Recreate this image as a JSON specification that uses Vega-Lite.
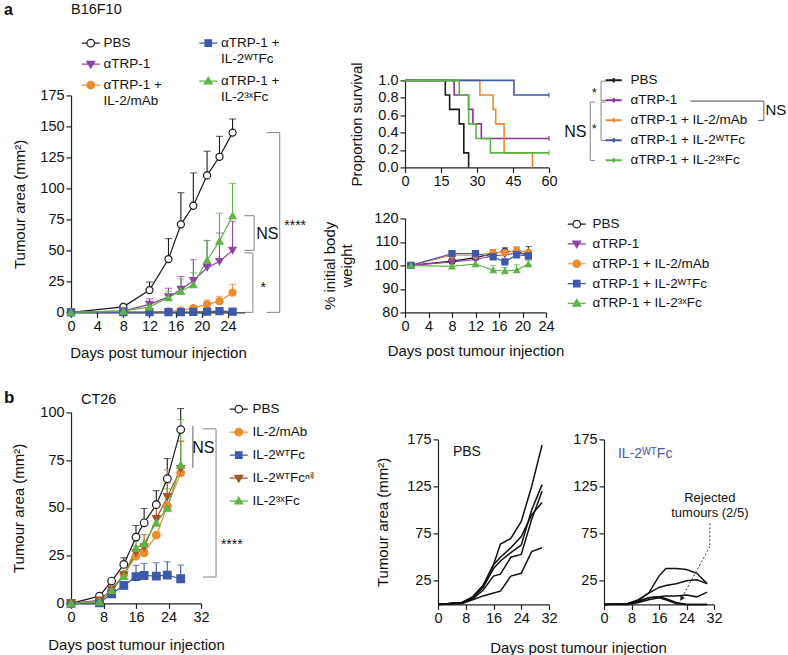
{
"$schema": "https://vega.github.io/schema/vega-lite/v6.json",
"padding": {"left": 3, "top": 1.4, "right": 0, "bottom": 0},
"background": "#ffffff",
"config": {
 "font": "Liberation Sans",
 "view": {"stroke": null},
 "axis": {"grid": false, "domainColor": "#222222", "tickColor": "#222222", "labelColor": "#111111", "titleColor": "#111111", "labelFontSize": 14.5, "titleFontSize": 15, "titleFontWeight": "normal", "tickSize": 5, "labelPadding": 2, "labelFlush": false, "labelOverlap": false, "domainWidth": 1.2, "tickWidth": 1.2, "labelFont": "Liberation Sans", "titleFont": "Liberation Sans"},
 "legend": {"labelFont": "Liberation Sans", "labelColor": "#111111", "symbolOpacity": 1},
 "text": {"font": "Liberation Sans", "color": "#111111"}
},
"datasets": {
 "aT": [
  {"g": "PBS", "day": 0, "m": 0, "hi": null},
  {"g": "PBS", "day": 8, "m": 4.5, "hi": 6.5},
  {"g": "PBS", "day": 12, "m": 18, "hi": 24.5},
  {"g": "PBS", "day": 14.9, "m": 43, "hi": 59.5},
  {"g": "PBS", "day": 16.8, "m": 71, "hi": 96.5},
  {"g": "PBS", "day": 18.7, "m": 86, "hi": 112.5},
  {"g": "PBS", "day": 20.8, "m": 110.5, "hi": 130},
  {"g": "PBS", "day": 22.7, "m": 125.5, "hi": 142},
  {"g": "PBS", "day": 24.7, "m": 145, "hi": 156},
  {"g": "αTRP-1", "day": 0, "m": 0, "hi": null},
  {"g": "αTRP-1", "day": 8, "m": 1.2, "hi": null},
  {"g": "αTRP-1", "day": 12, "m": 6.5, "hi": 11},
  {"g": "αTRP-1", "day": 14.9, "m": 12.5, "hi": 19.5},
  {"g": "αTRP-1", "day": 16.8, "m": 18.5, "hi": 29},
  {"g": "αTRP-1", "day": 18.7, "m": 25.5, "hi": 42.5},
  {"g": "αTRP-1", "day": 20.8, "m": 36, "hi": 58},
  {"g": "αTRP-1", "day": 22.7, "m": 41, "hi": 64},
  {"g": "αTRP-1", "day": 24.7, "m": 50, "hi": 73.5},
  {"g": "αTRP-1 + IL-2/mAb", "day": 0, "m": 0, "hi": null},
  {"g": "αTRP-1 + IL-2/mAb", "day": 8, "m": 0.3, "hi": null},
  {"g": "αTRP-1 + IL-2/mAb", "day": 12, "m": 0.3, "hi": null},
  {"g": "αTRP-1 + IL-2/mAb", "day": 14.9, "m": 0.8, "hi": null},
  {"g": "αTRP-1 + IL-2/mAb", "day": 16.8, "m": 1.5, "hi": 2.5},
  {"g": "αTRP-1 + IL-2/mAb", "day": 18.7, "m": 3.5, "hi": 5.5},
  {"g": "αTRP-1 + IL-2/mAb", "day": 20.8, "m": 6.5, "hi": 10},
  {"g": "αTRP-1 + IL-2/mAb", "day": 22.7, "m": 9, "hi": 13},
  {"g": "αTRP-1 + IL-2/mAb", "day": 24.7, "m": 16, "hi": 22.5},
  {"g": "αTRP-1 + IL-2ᵂᵀFc", "day": 0, "m": 0, "hi": null},
  {"g": "αTRP-1 + IL-2ᵂᵀFc", "day": 8, "m": 0.2, "hi": null},
  {"g": "αTRP-1 + IL-2ᵂᵀFc", "day": 12, "m": 0.2, "hi": null},
  {"g": "αTRP-1 + IL-2ᵂᵀFc", "day": 14.9, "m": 0.3, "hi": null},
  {"g": "αTRP-1 + IL-2ᵂᵀFc", "day": 16.8, "m": 0.3, "hi": null},
  {"g": "αTRP-1 + IL-2ᵂᵀFc", "day": 18.7, "m": 0.4, "hi": null},
  {"g": "αTRP-1 + IL-2ᵂᵀFc", "day": 20.8, "m": 0.6, "hi": null},
  {"g": "αTRP-1 + IL-2ᵂᵀFc", "day": 22.7, "m": 1, "hi": null},
  {"g": "αTRP-1 + IL-2ᵂᵀFc", "day": 24.7, "m": 0.6, "hi": null},
  {"g": "αTRP-1 + IL-2³ˣFc", "day": 0, "m": 0, "hi": null},
  {"g": "αTRP-1 + IL-2³ˣFc", "day": 8, "m": 1, "hi": null},
  {"g": "αTRP-1 + IL-2³ˣFc", "day": 12, "m": 4.5, "hi": 8},
  {"g": "αTRP-1 + IL-2³ˣFc", "day": 14.9, "m": 12, "hi": 17},
  {"g": "αTRP-1 + IL-2³ˣFc", "day": 16.8, "m": 17, "hi": 27},
  {"g": "αTRP-1 + IL-2³ˣFc", "day": 18.7, "m": 22.5, "hi": 32},
  {"g": "αTRP-1 + IL-2³ˣFc", "day": 20.8, "m": 42, "hi": 58},
  {"g": "αTRP-1 + IL-2³ˣFc", "day": 22.7, "m": 57.5, "hi": 80},
  {"g": "αTRP-1 + IL-2³ˣFc", "day": 24.7, "m": 78, "hi": 104}
 ],
 "surv": [
  {"g": "PBS", "day": 0, "p": 1}, {"g": "PBS", "day": 16.8, "p": 0.833}, {"g": "PBS", "day": 18.6, "p": 0.667}, {"g": "PBS", "day": 22.6, "p": 0.5}, {"g": "PBS", "day": 24.5, "p": 0.167}, {"g": "PBS", "day": 26.5, "p": 0},
  {"g": "αTRP-1", "day": 0, "p": 1}, {"g": "αTRP-1", "day": 20.5, "p": 0.833}, {"g": "αTRP-1", "day": 26.5, "p": 0.667}, {"g": "αTRP-1", "day": 28.3, "p": 0.5}, {"g": "αTRP-1", "day": 31.8, "p": 0.333}, {"g": "αTRP-1", "day": 60, "p": 0.333},
  {"g": "αTRP-1 + IL-2/mAb", "day": 0, "p": 1}, {"g": "αTRP-1 + IL-2/mAb", "day": 31.2, "p": 0.833}, {"g": "αTRP-1 + IL-2/mAb", "day": 36.7, "p": 0.667}, {"g": "αTRP-1 + IL-2/mAb", "day": 37.8, "p": 0.5}, {"g": "αTRP-1 + IL-2/mAb", "day": 41.3, "p": 0.167}, {"g": "αTRP-1 + IL-2/mAb", "day": 53.1, "p": 0},
  {"g": "αTRP-1 + IL-2ᵂᵀFc", "day": 0, "p": 1}, {"g": "αTRP-1 + IL-2ᵂᵀFc", "day": 45.4, "p": 0.833}, {"g": "αTRP-1 + IL-2ᵂᵀFc", "day": 60, "p": 0.833},
  {"g": "αTRP-1 + IL-2³ˣFc", "day": 0, "p": 1}, {"g": "αTRP-1 + IL-2³ˣFc", "day": 22.6, "p": 0.833}, {"g": "αTRP-1 + IL-2³ˣFc", "day": 26.5, "p": 0.5}, {"g": "αTRP-1 + IL-2³ˣFc", "day": 29.6, "p": 0.333}, {"g": "αTRP-1 + IL-2³ˣFc", "day": 35.6, "p": 0.167}, {"g": "αTRP-1 + IL-2³ˣFc", "day": 60, "p": 0.167}
 ],
 "bw": [
  {"g": "PBS", "day": 1, "m": 100, "hi": null}, {"g": "PBS", "day": 8, "m": 101.8, "hi": 102.8}, {"g": "PBS", "day": 12, "m": 103.3, "hi": 104.5}, {"g": "PBS", "day": 15, "m": 105, "hi": 106.7}, {"g": "PBS", "day": 17, "m": 106, "hi": 107.5}, {"g": "PBS", "day": 19, "m": 105.8, "hi": 107.8}, {"g": "PBS", "day": 21, "m": 104.5, "hi": 108},
  {"g": "αTRP-1", "day": 1, "m": 100, "hi": null}, {"g": "αTRP-1", "day": 8, "m": 101.5, "hi": null}, {"g": "αTRP-1", "day": 12, "m": 102.5, "hi": null}, {"g": "αTRP-1", "day": 15, "m": 104, "hi": 105.5}, {"g": "αTRP-1", "day": 17, "m": 104.5, "hi": 106}, {"g": "αTRP-1", "day": 19, "m": 105.2, "hi": 106.5}, {"g": "αTRP-1", "day": 21, "m": 104.5, "hi": 106},
  {"g": "αTRP-1 + IL-2/mAb", "day": 1, "m": 100, "hi": null}, {"g": "αTRP-1 + IL-2/mAb", "day": 8, "m": 104.3, "hi": 105}, {"g": "αTRP-1 + IL-2/mAb", "day": 12, "m": 104.3, "hi": 105}, {"g": "αTRP-1 + IL-2/mAb", "day": 15, "m": 105.5, "hi": 106.5}, {"g": "αTRP-1 + IL-2/mAb", "day": 17, "m": 105.5, "hi": 106.5}, {"g": "αTRP-1 + IL-2/mAb", "day": 19, "m": 106.3, "hi": 107.5}, {"g": "αTRP-1 + IL-2/mAb", "day": 21, "m": 105.5, "hi": 106.8},
  {"g": "αTRP-1 + IL-2ᵂᵀFc", "day": 1, "m": 100, "hi": null}, {"g": "αTRP-1 + IL-2ᵂᵀFc", "day": 8, "m": 105, "hi": null}, {"g": "αTRP-1 + IL-2ᵂᵀFc", "day": 12, "m": 105, "hi": null}, {"g": "αTRP-1 + IL-2ᵂᵀFc", "day": 15, "m": 103.6, "hi": null}, {"g": "αTRP-1 + IL-2ᵂᵀFc", "day": 17, "m": 101.5, "hi": null}, {"g": "αTRP-1 + IL-2ᵂᵀFc", "day": 19, "m": 104.5, "hi": null}, {"g": "αTRP-1 + IL-2ᵂᵀFc", "day": 21, "m": 104, "hi": null},
  {"g": "αTRP-1 + IL-2³ˣFc", "day": 1, "m": 100, "hi": null}, {"g": "αTRP-1 + IL-2³ˣFc", "day": 8, "m": 99.6, "hi": 100.5}, {"g": "αTRP-1 + IL-2³ˣFc", "day": 12, "m": 100.6, "hi": null}, {"g": "αTRP-1 + IL-2³ˣFc", "day": 15, "m": 98, "hi": 100}, {"g": "αTRP-1 + IL-2³ˣFc", "day": 17, "m": 97.6, "hi": 99.1}, {"g": "αTRP-1 + IL-2³ˣFc", "day": 19, "m": 98, "hi": 100.3}, {"g": "αTRP-1 + IL-2³ˣFc", "day": 21, "m": 100.6, "hi": 102}
 ],
 "bT": [
  {"g": "PBS", "day": 0, "m": 0, "hi": null}, {"g": "PBS", "day": 7, "m": 3.8, "hi": null}, {"g": "PBS", "day": 10, "m": 11.7, "hi": null}, {"g": "PBS", "day": 13, "m": 20.4, "hi": 23.9}, {"g": "PBS", "day": 16, "m": 34.7, "hi": 40.8}, {"g": "PBS", "day": 18, "m": 42.2, "hi": 49.7}, {"g": "PBS", "day": 21, "m": 51.7, "hi": 59}, {"g": "PBS", "day": 23.7, "m": 65.3, "hi": 75.8}, {"g": "PBS", "day": 27, "m": 91, "hi": 102},
  {"g": "IL-2/mAb", "day": 0, "m": 0, "hi": null}, {"g": "IL-2/mAb", "day": 7, "m": 1.2, "hi": null}, {"g": "IL-2/mAb", "day": 10, "m": 6.4, "hi": null}, {"g": "IL-2/mAb", "day": 13, "m": 15.2, "hi": null}, {"g": "IL-2/mAb", "day": 16, "m": 24.7, "hi": null}, {"g": "IL-2/mAb", "day": 18, "m": 26.5, "hi": null}, {"g": "IL-2/mAb", "day": 21, "m": 35.7, "hi": null}, {"g": "IL-2/mAb", "day": 23.7, "m": 50.9, "hi": 70}, {"g": "IL-2/mAb", "day": 27, "m": 68.3, "hi": 84.8},
  {"g": "IL-2ᵂᵀFc", "day": 0, "m": 0, "hi": null}, {"g": "IL-2ᵂᵀFc", "day": 7, "m": 0.3, "hi": null}, {"g": "IL-2ᵂᵀFc", "day": 10, "m": 5, "hi": null}, {"g": "IL-2ᵂᵀFc", "day": 13, "m": 9.4, "hi": null}, {"g": "IL-2ᵂᵀFc", "day": 16, "m": 14, "hi": 19.9}, {"g": "IL-2ᵂᵀFc", "day": 18, "m": 14.6, "hi": 20.9}, {"g": "IL-2ᵂᵀFc", "day": 21, "m": 14.3, "hi": 21.3}, {"g": "IL-2ᵂᵀFc", "day": 23.7, "m": 14.8, "hi": 21.8}, {"g": "IL-2ᵂᵀFc", "day": 27, "m": 12.9, "hi": 20},
  {"g": "IL-2ᵂᵀFcⁿⁱˡ", "day": 0, "m": 0, "hi": null}, {"g": "IL-2ᵂᵀFcⁿⁱˡ", "day": 7, "m": 1.6, "hi": null}, {"g": "IL-2ᵂᵀFcⁿⁱˡ", "day": 10, "m": 7.3, "hi": null}, {"g": "IL-2ᵂᵀFcⁿⁱˡ", "day": 13, "m": 14.8, "hi": null}, {"g": "IL-2ᵂᵀFcⁿⁱˡ", "day": 16, "m": 26.5, "hi": 30}, {"g": "IL-2ᵂᵀFcⁿⁱˡ", "day": 18, "m": 29.4, "hi": 36}, {"g": "IL-2ᵂᵀFcⁿⁱˡ", "day": 21, "m": 44.3, "hi": 51.7}, {"g": "IL-2ᵂᵀFcⁿⁱˡ", "day": 23.7, "m": 55.7, "hi": 63}, {"g": "IL-2ᵂᵀFcⁿⁱˡ", "day": 27, "m": 70.4, "hi": 85},
  {"g": "IL-2³ˣFc", "day": 0, "m": 0, "hi": null}, {"g": "IL-2³ˣFc", "day": 7, "m": 0.9, "hi": null}, {"g": "IL-2³ˣFc", "day": 10, "m": 6.8, "hi": null}, {"g": "IL-2³ˣFc", "day": 13, "m": 14.3, "hi": null}, {"g": "IL-2³ˣFc", "day": 16, "m": 29, "hi": 36}, {"g": "IL-2³ˣFc", "day": 18, "m": 31.4, "hi": null}, {"g": "IL-2³ˣFc", "day": 21, "m": 42.2, "hi": null}, {"g": "IL-2³ˣFc", "day": 23.7, "m": 50, "hi": 60}, {"g": "IL-2³ˣFc", "day": 27, "m": 72.6, "hi": 96.2}
 ],
 "mice": [
  {"g": "PBS", "id": "P1", "day": 0, "a": 0}, {"g": "PBS", "id": "P1", "day": 7, "a": 2}, {"g": "PBS", "id": "P1", "day": 10, "a": 8}, {"g": "PBS", "id": "P1", "day": 13, "a": 20}, {"g": "PBS", "id": "P1", "day": 16, "a": 42}, {"g": "PBS", "id": "P1", "day": 18, "a": 64}, {"g": "PBS", "id": "P1", "day": 21, "a": 70}, {"g": "PBS", "id": "P1", "day": 24, "a": 88}, {"g": "PBS", "id": "P1", "day": 27, "a": 125}, {"g": "PBS", "id": "P1", "day": 30, "a": 169},
  {"g": "PBS", "id": "P2", "day": 0, "a": 0}, {"g": "PBS", "id": "P2", "day": 7, "a": 2}, {"g": "PBS", "id": "P2", "day": 10, "a": 8}, {"g": "PBS", "id": "P2", "day": 13, "a": 20}, {"g": "PBS", "id": "P2", "day": 16, "a": 42}, {"g": "PBS", "id": "P2", "day": 18, "a": 50}, {"g": "PBS", "id": "P2", "day": 21, "a": 60}, {"g": "PBS", "id": "P2", "day": 24, "a": 72}, {"g": "PBS", "id": "P2", "day": 27, "a": 95}, {"g": "PBS", "id": "P2", "day": 30, "a": 108},
  {"g": "PBS", "id": "P3", "day": 0, "a": 0}, {"g": "PBS", "id": "P3", "day": 7, "a": 2}, {"g": "PBS", "id": "P3", "day": 10, "a": 7}, {"g": "PBS", "id": "P3", "day": 13, "a": 18}, {"g": "PBS", "id": "P3", "day": 16, "a": 38}, {"g": "PBS", "id": "P3", "day": 18, "a": 46}, {"g": "PBS", "id": "P3", "day": 21, "a": 55}, {"g": "PBS", "id": "P3", "day": 24, "a": 63}, {"g": "PBS", "id": "P3", "day": 27, "a": 100}, {"g": "PBS", "id": "P3", "day": 30, "a": 127},
  {"g": "PBS", "id": "P4", "day": 0, "a": 0}, {"g": "PBS", "id": "P4", "day": 7, "a": 2}, {"g": "PBS", "id": "P4", "day": 10, "a": 6}, {"g": "PBS", "id": "P4", "day": 13, "a": 15}, {"g": "PBS", "id": "P4", "day": 16, "a": 30}, {"g": "PBS", "id": "P4", "day": 18, "a": 32}, {"g": "PBS", "id": "P4", "day": 21, "a": 50}, {"g": "PBS", "id": "P4", "day": 24, "a": 53}, {"g": "PBS", "id": "P4", "day": 27, "a": 90}, {"g": "PBS", "id": "P4", "day": 30, "a": 120},
  {"g": "PBS", "id": "P5", "day": 0, "a": 0}, {"g": "PBS", "id": "P5", "day": 7, "a": 1}, {"g": "PBS", "id": "P5", "day": 10, "a": 5}, {"g": "PBS", "id": "P5", "day": 13, "a": 9}, {"g": "PBS", "id": "P5", "day": 16, "a": 12}, {"g": "PBS", "id": "P5", "day": 18, "a": 14}, {"g": "PBS", "id": "P5", "day": 21, "a": 30}, {"g": "PBS", "id": "P5", "day": 24, "a": 33}, {"g": "PBS", "id": "P5", "day": 27, "a": 56}, {"g": "PBS", "id": "P5", "day": 30, "a": 60},
  {"g": "WT", "id": "W1", "day": 0, "a": 0}, {"g": "WT", "id": "W1", "day": 7, "a": 1}, {"g": "WT", "id": "W1", "day": 10, "a": 4}, {"g": "WT", "id": "W1", "day": 13, "a": 12}, {"g": "WT", "id": "W1", "day": 16, "a": 30}, {"g": "WT", "id": "W1", "day": 18, "a": 38}, {"g": "WT", "id": "W1", "day": 21, "a": 38}, {"g": "WT", "id": "W1", "day": 24, "a": 37}, {"g": "WT", "id": "W1", "day": 27, "a": 33}, {"g": "WT", "id": "W1", "day": 30, "a": 22},
  {"g": "WT", "id": "W2", "day": 0, "a": 0}, {"g": "WT", "id": "W2", "day": 7, "a": 1}, {"g": "WT", "id": "W2", "day": 10, "a": 5}, {"g": "WT", "id": "W2", "day": 13, "a": 12}, {"g": "WT", "id": "W2", "day": 16, "a": 18}, {"g": "WT", "id": "W2", "day": 18, "a": 20}, {"g": "WT", "id": "W2", "day": 21, "a": 22}, {"g": "WT", "id": "W2", "day": 24, "a": 25}, {"g": "WT", "id": "W2", "day": 27, "a": 26}, {"g": "WT", "id": "W2", "day": 30, "a": 22},
  {"g": "WT", "id": "W3", "day": 0, "a": 0}, {"g": "WT", "id": "W3", "day": 7, "a": 1}, {"g": "WT", "id": "W3", "day": 10, "a": 3}, {"g": "WT", "id": "W3", "day": 13, "a": 7}, {"g": "WT", "id": "W3", "day": 16, "a": 8}, {"g": "WT", "id": "W3", "day": 18, "a": 9}, {"g": "WT", "id": "W3", "day": 21, "a": 9}, {"g": "WT", "id": "W3", "day": 24, "a": 10}, {"g": "WT", "id": "W3", "day": 27, "a": 8}, {"g": "WT", "id": "W3", "day": 30, "a": 13},
  {"g": "WT", "id": "W4", "day": 0, "a": 0}, {"g": "WT", "id": "W4", "day": 7, "a": 1}, {"g": "WT", "id": "W4", "day": 10, "a": 3}, {"g": "WT", "id": "W4", "day": 13, "a": 7}, {"g": "WT", "id": "W4", "day": 16, "a": 8}, {"g": "WT", "id": "W4", "day": 18, "a": 6}, {"g": "WT", "id": "W4", "day": 21, "a": 2}, {"g": "WT", "id": "W4", "day": 24, "a": 0}, {"g": "WT", "id": "W4", "day": 27, "a": 0}, {"g": "WT", "id": "W4", "day": 30, "a": 0},
  {"g": "WT", "id": "W5", "day": 0, "a": 0}, {"g": "WT", "id": "W5", "day": 7, "a": 0}, {"g": "WT", "id": "W5", "day": 10, "a": 2}, {"g": "WT", "id": "W5", "day": 13, "a": 5}, {"g": "WT", "id": "W5", "day": 16, "a": 7}, {"g": "WT", "id": "W5", "day": 18, "a": 5}, {"g": "WT", "id": "W5", "day": 21, "a": 1}, {"g": "WT", "id": "W5", "day": 24, "a": 0}, {"g": "WT", "id": "W5", "day": 27, "a": 0}, {"g": "WT", "id": "W5", "day": 30, "a": 0}
 ]
},
"spacing": 28,
"bounds": "full",
"resolve": {"scale": {"color": "independent", "fill": "independent", "stroke": "independent", "shape": "independent"}, "legend": {"color": "independent", "fill": "independent", "stroke": "independent", "shape": "independent"}},
"vconcat": [
 {
  "hconcat": [
   {
    "width": 174, "height": 232,
    "layer": [
     {"data": {"name": "aT"}, "transform": [{"filter": "datum.hi != null"}], "mark": {"type": "rule", "strokeWidth": 1.1},
      "encoding": {
       "x": {"field": "day", "type": "quantitative", "scale": {"domain": [0, 26.6], "nice": false, "zero": false}, "axis": {"values": [0, 4, 8, 12, 16, 20, 24], "tickCount": 30, "title": "Days post tumour injection", "titlePadding": 13, "labelOverlap": false, "labelFlush": false}},
       "y": {"field": "m", "type": "quantitative", "scale": {"domain": [0, 175], "range": [232, 15], "nice": false}, "axis": {"values": [0, 25, 50, 75, 100, 125, 150, 175], "tickCount": 30, "title": "Tumour area  (mm²)", "titlePadding": 12, "labelOverlap": false}},
       "y2": {"field": "hi"},
       "color": {"field": "g", "type": "nominal", "scale": {"domain": ["PBS", "αTRP-1", "αTRP-1 + IL-2/mAb", "αTRP-1 + IL-2ᵂᵀFc", "αTRP-1 + IL-2³ˣFc"], "range": ["#1a1a1a", "#9142a3", "#ee8b2d", "#3d5aa9", "#5db446"]}, "legend": null}
      }},
     {"data": {"name": "aT"}, "transform": [{"filter": "datum.hi != null"}], "mark": {"type": "tick", "orient": "horizontal", "size": 7, "thickness": 1.1},
      "encoding": {
       "x": {"field": "day", "type": "quantitative"},
       "y": {"field": "hi", "type": "quantitative"},
       "color": {"field": "g", "type": "nominal", "legend": null}
      }},
     {"data": {"name": "aT"}, "mark": {"type": "line", "strokeWidth": 1.2},
      "encoding": {
       "x": {"field": "day", "type": "quantitative"},
       "y": {"field": "m", "type": "quantitative"},
       "color": {"field": "g", "type": "nominal", "legend": null}
      }},
     {"data": {"name": "aT"}, "mark": {"type": "point", "filled": true, "size": 50, "strokeWidth": 1.2, "opacity": 1},
      "encoding": {
       "x": {"field": "day", "type": "quantitative"},
       "y": {"field": "m", "type": "quantitative"},
       "fill": {"field": "g", "type": "nominal", "scale": {"domain": ["PBS", "αTRP-1", "αTRP-1 + IL-2/mAb", "αTRP-1 + IL-2ᵂᵀFc", "αTRP-1 + IL-2³ˣFc"], "range": ["#ffffff", "#9142a3", "#ee8b2d", "#3d5aa9", "#5db446"]}, "legend": null},
       "stroke": {"field": "g", "type": "nominal", "scale": {"domain": ["PBS", "αTRP-1", "αTRP-1 + IL-2/mAb", "αTRP-1 + IL-2ᵂᵀFc", "αTRP-1 + IL-2³ˣFc"], "range": ["#1a1a1a", "#9142a3", "#ee8b2d", "#3d5aa9", "#5db446"]}, "legend": null},
       "shape": {"field": "g", "type": "nominal", "scale": {"domain": ["PBS", "αTRP-1", "αTRP-1 + IL-2/mAb", "αTRP-1 + IL-2ᵂᵀFc", "αTRP-1 + IL-2³ˣFc"], "range": ["circle", "triangle-down", "circle", "square", "triangle-up"]}, "legend": null}
      }},
     {"data": {"values": [{"g": "PBS"}]}, "transform": [{"filter": "false"}], "mark": {"type": "point", "filled": true, "opacity": 1},
      "encoding": {
       "fill": {"field": "g", "type": "nominal", "scale": {"domain": ["PBS", "αTRP-1", "αTRP-1 + IL-2/mAb"], "range": ["#ffffff", "#9142a3", "#ee8b2d"]}, "legend": {"title": null, "orient": "none", "legendX": 13, "legendY": -44, "symbolSize": 100, "symbolStrokeWidth": 1.2, "symbolOpacity": 1, "labelOffset": 6, "labelFontSize": 13.5, "labelLimit": 300, "rowPadding": 6, "labelExpr": "indexof(datum.label, ' + ') > 0 ? [slice(datum.label, 0, indexof(datum.label, ' + ') + 2), slice(datum.label, indexof(datum.label, ' + ') + 3)] : datum.label"}},
       "stroke": {"field": "g", "type": "nominal", "scale": {"domain": ["PBS", "αTRP-1", "αTRP-1 + IL-2/mAb"], "range": ["#1a1a1a", "#9142a3", "#ee8b2d"]}, "legend": {"title": null, "orient": "none", "legendX": 13, "legendY": -44, "symbolSize": 100, "symbolStrokeWidth": 1.2, "symbolOpacity": 1, "labelOffset": 6, "labelFontSize": 13.5, "labelLimit": 300, "rowPadding": 6, "labelExpr": "indexof(datum.label, ' + ') > 0 ? [slice(datum.label, 0, indexof(datum.label, ' + ') + 2), slice(datum.label, indexof(datum.label, ' + ') + 3)] : datum.label"}},
       "shape": {"field": "g", "type": "nominal", "scale": {"domain": ["PBS", "αTRP-1", "αTRP-1 + IL-2/mAb"], "range": ["M-1.8,0H-0.75M0.75,0H1.8M-0.75,0A0.75,0.75,0,1,1,0.75,0A0.75,0.75,0,1,1,-0.75,0Z", "M-1.8,0H1.8M-0.8,-0.55H0.8L0,0.8Z", "M-1.8,0H1.8M-0.75,0A0.75,0.75,0,1,1,0.75,0A0.75,0.75,0,1,1,-0.75,0Z"]}, "legend": {"title": null, "orient": "none", "legendX": 13, "legendY": -44, "symbolSize": 100, "symbolStrokeWidth": 1.2, "symbolOpacity": 1, "labelOffset": 6, "labelFontSize": 13.5, "labelLimit": 300, "rowPadding": 6, "labelExpr": "indexof(datum.label, ' + ') > 0 ? [slice(datum.label, 0, indexof(datum.label, ' + ') + 2), slice(datum.label, indexof(datum.label, ' + ') + 3)] : datum.label"}}
      }},
     {"data": {"values": [{"g": "PBS"}]}, "transform": [{"filter": "false"}], "mark": {"type": "point", "filled": true, "opacity": 1},
      "encoding": {
       "fill": {"field": "g", "type": "nominal", "scale": {"domain": ["αTRP-1 + IL-2ᵂᵀFc", "αTRP-1 + IL-2³ˣFc"], "range": ["#3d5aa9", "#5db446"]}, "legend": {"title": null, "orient": "none", "legendX": 130.5, "legendY": -44, "symbolSize": 100, "symbolStrokeWidth": 1.2, "symbolOpacity": 1, "labelOffset": 6, "labelFontSize": 13.5, "labelLimit": 300, "rowPadding": 8, "labelExpr": "indexof(datum.label, ' + ') > 0 ? [slice(datum.label, 0, indexof(datum.label, ' + ') + 2), slice(datum.label, indexof(datum.label, ' + ') + 3)] : datum.label"}},
       "stroke": {"field": "g", "type": "nominal", "scale": {"domain": ["αTRP-1 + IL-2ᵂᵀFc", "αTRP-1 + IL-2³ˣFc"], "range": ["#3d5aa9", "#5db446"]}, "legend": {"title": null, "orient": "none", "legendX": 130.5, "legendY": -44, "symbolSize": 100, "symbolStrokeWidth": 1.2, "symbolOpacity": 1, "labelOffset": 6, "labelFontSize": 13.5, "labelLimit": 300, "rowPadding": 8, "labelExpr": "indexof(datum.label, ' + ') > 0 ? [slice(datum.label, 0, indexof(datum.label, ' + ') + 2), slice(datum.label, indexof(datum.label, ' + ') + 3)] : datum.label"}},
       "shape": {"field": "g", "type": "nominal", "scale": {"domain": ["αTRP-1 + IL-2ᵂᵀFc", "αTRP-1 + IL-2³ˣFc"], "range": ["M-1.8,0H1.8M-0.65,-0.65H0.65V0.65H-0.65Z", "M-1.8,0H1.8M-0.8,0.55H0.8L0,-0.8Z"]}, "legend": {"title": null, "orient": "none", "legendX": 130.5, "legendY": -44, "symbolSize": 100, "symbolStrokeWidth": 1.2, "symbolOpacity": 1, "labelOffset": 6, "labelFontSize": 13.5, "labelLimit": 300, "rowPadding": 8, "labelExpr": "indexof(datum.label, ' + ') > 0 ? [slice(datum.label, 0, indexof(datum.label, ' + ') + 2), slice(datum.label, indexof(datum.label, ' + ') + 3)] : datum.label"}}
      }},
     {"data": {"values": [{}]}, "mark": {"type": "rule", "color": "#8f8f8f", "strokeWidth": 1.1}, "encoding": {"x": {"datum": 31.9}, "y": {"datum": 0}, "y2": {"datum": 145}}},
     {"data": {"values": [{}]}, "mark": {"type": "rule", "color": "#8f8f8f", "strokeWidth": 1.1}, "encoding": {"x": {"datum": 29.9}, "x2": {"datum": 31.9}, "y": {"datum": 145}}},
     {"data": {"values": [{}]}, "mark": {"type": "rule", "color": "#8f8f8f", "strokeWidth": 1.1}, "encoding": {"x": {"datum": 29.9}, "x2": {"datum": 31.9}, "y": {"datum": 0}}},
     {"data": {"values": [{}]}, "mark": {"type": "rule", "color": "#8f8f8f", "strokeWidth": 1.1}, "encoding": {"x": {"datum": 28.0}, "y": {"datum": 50}, "y2": {"datum": 78}}},
     {"data": {"values": [{}]}, "mark": {"type": "rule", "color": "#8f8f8f", "strokeWidth": 1.1}, "encoding": {"x": {"datum": 26.5}, "x2": {"datum": 28.0}, "y": {"datum": 78}}},
     {"data": {"values": [{}]}, "mark": {"type": "rule", "color": "#8f8f8f", "strokeWidth": 1.1}, "encoding": {"x": {"datum": 26.5}, "x2": {"datum": 28.0}, "y": {"datum": 50}}},
     {"data": {"values": [{}]}, "mark": {"type": "rule", "color": "#8f8f8f", "strokeWidth": 1.1}, "encoding": {"x": {"datum": 27.8}, "y": {"datum": 0}, "y2": {"datum": 48}}},
     {"data": {"values": [{}]}, "mark": {"type": "rule", "color": "#8f8f8f", "strokeWidth": 1.1}, "encoding": {"x": {"datum": 26.5}, "x2": {"datum": 27.8}, "y": {"datum": 48}}},
     {"data": {"values": [{}]}, "mark": {"type": "rule", "color": "#8f8f8f", "strokeWidth": 1.1}, "encoding": {"x": {"datum": 26.6}, "x2": {"datum": 27.8}, "y": {"datum": 0}}},
     {"data": {"values": [{}]}, "mark": {"type": "text", "text": "****", "align": "left", "baseline": "middle", "fontSize": 14}, "encoding": {"x": {"datum": 32.6}, "y": {"datum": 70}}},
     {"data": {"values": [{}]}, "mark": {"type": "text", "text": "NS", "align": "center", "baseline": "middle", "fontSize": 16}, "encoding": {"x": {"datum": 30.0}, "y": {"datum": 63.5}}},
     {"data": {"values": [{}]}, "mark": {"type": "text", "text": "*", "align": "center", "baseline": "middle", "fontSize": 14}, "encoding": {"x": {"datum": 29.4}, "y": {"datum": 20}}},
     {"data": {"values": [{}]}, "mark": {"type": "text", "text": "a", "align": "left", "baseline": "alphabetic", "fontSize": 16, "fontWeight": "bold"}, "encoding": {"x": {"datum": -10.26}, "y": {"datum": 239.9}}},
     {"data": {"values": [{}]}, "mark": {"type": "text", "text": "B16F10", "align": "left", "baseline": "alphabetic", "fontSize": 14.5}, "encoding": {"x": {"datum": 0}, "y": {"datum": 240.9}}}
    ],
    "resolve": {"scale": {"fill": "independent", "stroke": "independent", "shape": "independent"}, "legend": {"fill": "independent", "stroke": "independent", "shape": "independent"}}
   },
   {
    "vconcat": [
     {
      "width": 144, "height": 87,
      "layer": [
       {"data": {"name": "surv"}, "mark": {"type": "line", "interpolate": "step-after", "strokeWidth": 1.6},
        "encoding": {
         "x": {"field": "day", "type": "quantitative", "scale": {"domain": [0, 60], "nice": false, "zero": false}, "axis": {"values": [0, 15, 30, 45, 60], "tickCount": 30, "title": null, "labelOverlap": false, "labelFlush": false}},
         "y": {"field": "p", "type": "quantitative", "scale": {"domain": [0, 1], "nice": false}, "axis": {"values": [0, 0.2, 0.4, 0.6, 0.8, 1], "tickCount": 30, "format": ".1f", "title": "Proportion survival", "titlePadding": 13, "labelOverlap": false}},
         "color": {"field": "g", "type": "nominal", "scale": {"domain": ["PBS", "αTRP-1", "αTRP-1 + IL-2/mAb", "αTRP-1 + IL-2ᵂᵀFc", "αTRP-1 + IL-2³ˣFc"], "range": ["#1a1a1a", "#8e2f9e", "#ee8b2d", "#3d5aa9", "#5db446"]}, "legend": null}
        }},
       {"data": {"name": "surv"}, "transform": [{"filter": "datum.day == 60"}], "mark": {"type": "tick", "orient": "vertical", "size": 5, "thickness": 1.5},
        "encoding": {
         "x": {"field": "day", "type": "quantitative"},
         "y": {"field": "p", "type": "quantitative"},
         "color": {"field": "g", "type": "nominal", "legend": null}
        }},
       {"data": {"values": [{"g": "PBS"}]}, "transform": [{"filter": "false"}], "mark": {"type": "point", "filled": false, "opacity": 1},
        "encoding": {
         "stroke": {"field": "g", "type": "nominal", "scale": {"domain": ["PBS", "αTRP-1", "αTRP-1 + IL-2/mAb", "αTRP-1 + IL-2ᵂᵀFc", "αTRP-1 + IL-2³ˣFc"], "range": ["#1a1a1a", "#8e2f9e", "#ee8b2d", "#3d5aa9", "#5db446"]}, "legend": {"title": null, "orient": "none", "legendX": 202, "legendY": -7, "symbolType": "M-1.6,0H1.6M0,-0.45V0.45", "symbolSize": 100, "symbolStrokeWidth": 2, "symbolOpacity": 1, "labelOffset": 10, "labelFontSize": 13.5, "labelLimit": 300, "rowPadding": 5}}
        }},
       {"data": {"values": [{}]}, "mark": {"type": "rule", "color": "#8f8f8f", "strokeWidth": 1.1}, "encoding": {"x": {"datum": 81.7}, "y": {"datum": 0.992}, "y2": {"datum": 0.77}}},
       {"data": {"values": [{}]}, "mark": {"type": "rule", "color": "#8f8f8f", "strokeWidth": 1.1}, "encoding": {"x": {"datum": 81.7}, "x2": {"datum": 83.75}, "y": {"datum": 0.992}}},
       {"data": {"values": [{}]}, "mark": {"type": "rule", "color": "#8f8f8f", "strokeWidth": 1.1}, "encoding": {"x": {"datum": 81.7}, "x2": {"datum": 83.75}, "y": {"datum": 0.77}}},
       {"data": {"values": [{}]}, "mark": {"type": "rule", "color": "#8f8f8f", "strokeWidth": 1.1}, "encoding": {"x": {"datum": 81.7}, "y": {"datum": 0.751}, "y2": {"datum": 0.31}}},
       {"data": {"values": [{}]}, "mark": {"type": "rule", "color": "#8f8f8f", "strokeWidth": 1.1}, "encoding": {"x": {"datum": 81.7}, "x2": {"datum": 83.75}, "y": {"datum": 0.751}}},
       {"data": {"values": [{}]}, "mark": {"type": "rule", "color": "#8f8f8f", "strokeWidth": 1.1}, "encoding": {"x": {"datum": 81.7}, "x2": {"datum": 83.75}, "y": {"datum": 0.31}}},
       {"data": {"values": [{}]}, "mark": {"type": "rule", "color": "#8f8f8f", "strokeWidth": 1.1}, "encoding": {"x": {"datum": 77.2}, "y": {"datum": 0.751}, "y2": {"datum": 0.08}}},
       {"data": {"values": [{}]}, "mark": {"type": "rule", "color": "#8f8f8f", "strokeWidth": 1.1}, "encoding": {"x": {"datum": 77.2}, "x2": {"datum": 79.2}, "y": {"datum": 0.751}}},
       {"data": {"values": [{}]}, "mark": {"type": "rule", "color": "#8f8f8f", "strokeWidth": 1.1}, "encoding": {"x": {"datum": 77.2}, "x2": {"datum": 79.2}, "y": {"datum": 0.08}}},
       {"data": {"values": [{}]}, "mark": {"type": "rule", "color": "#6f6f6f", "strokeWidth": 1.1}, "encoding": {"x": {"datum": 118.9}, "x2": {"datum": 149.5}, "y": {"datum": 0.762}}},
       {"data": {"values": [{}]}, "mark": {"type": "rule", "color": "#6f6f6f", "strokeWidth": 1.1}, "encoding": {"x": {"datum": 149.5}, "y": {"datum": 0.762}, "y2": {"datum": 0.54}}},
       {"data": {"values": [{}]}, "mark": {"type": "rule", "color": "#6f6f6f", "strokeWidth": 1.1}, "encoding": {"x": {"datum": 147.1}, "x2": {"datum": 149.5}, "y": {"datum": 0.54}}},
       {"data": {"values": [{}]}, "mark": {"type": "text", "text": "*", "align": "center", "baseline": "middle", "fontSize": 13}, "encoding": {"x": {"datum": 78.9}, "y": {"datum": 0.85}}},
       {"data": {"values": [{}]}, "mark": {"type": "text", "text": "*", "align": "center", "baseline": "middle", "fontSize": 13}, "encoding": {"x": {"datum": 78.9}, "y": {"datum": 0.44}}},
       {"data": {"values": [{}]}, "mark": {"type": "text", "text": "NS", "align": "center", "baseline": "middle", "fontSize": 16}, "encoding": {"x": {"datum": 71.0}, "y": {"datum": 0.406}}},
       {"data": {"values": [{}]}, "mark": {"type": "text", "text": "NS", "align": "center", "baseline": "middle", "fontSize": 15}, "encoding": {"x": {"datum": 154.5}, "y": {"datum": 0.655}}}
      ],
      "resolve": {"scale": {"stroke": "independent"}, "legend": {"stroke": "independent"}}
     },
     {
      "width": 141, "height": 94,
      "layer": [
       {"data": {"name": "bw"}, "transform": [{"filter": "datum.hi != null"}], "mark": {"type": "rule", "strokeWidth": 1},
        "encoding": {
         "x": {"field": "day", "type": "quantitative", "scale": {"domain": [0, 24], "nice": false, "zero": false}, "axis": {"values": [0, 4, 8, 12, 16, 20, 24], "tickCount": 30, "title": "Days post tumour injection", "titlePadding": 11, "labelOverlap": false, "labelFlush": false}},
         "y": {"field": "m", "type": "quantitative", "scale": {"domain": [80, 120], "nice": false, "zero": false}, "axis": {"values": [80, 90, 100, 110, 120], "tickCount": 30, "title": ["% initial body", "weight"], "titlePadding": 19, "labelOverlap": false}},
         "y2": {"field": "hi"},
         "color": {"field": "g", "type": "nominal", "scale": {"domain": ["PBS", "αTRP-1", "αTRP-1 + IL-2/mAb", "αTRP-1 + IL-2ᵂᵀFc", "αTRP-1 + IL-2³ˣFc"], "range": ["#1a1a1a", "#9142a3", "#ee8b2d", "#3d5aa9", "#5db446"]}, "legend": null}
        }},
       {"data": {"name": "bw"}, "transform": [{"filter": "datum.hi != null"}], "mark": {"type": "tick", "orient": "horizontal", "size": 6, "thickness": 1},
        "encoding": {
         "x": {"field": "day", "type": "quantitative"},
         "y": {"field": "hi", "type": "quantitative"},
         "color": {"field": "g", "type": "nominal", "legend": null}
        }},
       {"data": {"name": "bw"}, "mark": {"type": "line", "strokeWidth": 1.1},
        "encoding": {
         "x": {"field": "day", "type": "quantitative"},
         "y": {"field": "m", "type": "quantitative"},
         "color": {"field": "g", "type": "nominal", "legend": null}
        }},
       {"data": {"name": "bw"}, "mark": {"type": "point", "filled": true, "size": 38, "strokeWidth": 1.1, "opacity": 1},
        "encoding": {
         "x": {"field": "day", "type": "quantitative"},
         "y": {"field": "m", "type": "quantitative"},
         "fill": {"field": "g", "type": "nominal", "scale": {"domain": ["PBS", "αTRP-1", "αTRP-1 + IL-2/mAb", "αTRP-1 + IL-2ᵂᵀFc", "αTRP-1 + IL-2³ˣFc"], "range": ["#ffffff", "#9142a3", "#ee8b2d", "#3d5aa9", "#5db446"]}, "legend": null},
         "stroke": {"field": "g", "type": "nominal", "scale": {"domain": ["PBS", "αTRP-1", "αTRP-1 + IL-2/mAb", "αTRP-1 + IL-2ᵂᵀFc", "αTRP-1 + IL-2³ˣFc"], "range": ["#1a1a1a", "#9142a3", "#ee8b2d", "#3d5aa9", "#5db446"]}, "legend": null},
         "shape": {"field": "g", "type": "nominal", "scale": {"domain": ["PBS", "αTRP-1", "αTRP-1 + IL-2/mAb", "αTRP-1 + IL-2ᵂᵀFc", "αTRP-1 + IL-2³ˣFc"], "range": ["circle", "triangle-down", "circle", "square", "triangle-up"]}, "legend": null}
        }},
       {"data": {"values": [{"g": "PBS"}]}, "transform": [{"filter": "false"}], "mark": {"type": "point", "filled": true, "opacity": 1},
        "encoding": {
         "fill": {"field": "g", "type": "nominal", "scale": {"domain": ["PBS", "αTRP-1", "αTRP-1 + IL-2/mAb", "αTRP-1 + IL-2ᵂᵀFc", "αTRP-1 + IL-2³ˣFc"], "range": ["#ffffff", "#9142a3", "#ee8b2d", "#3d5aa9", "#5db446"]}, "legend": {"title": null, "orient": "none", "legendX": 165, "legendY": -1, "symbolSize": 100, "symbolStrokeWidth": 1.2, "symbolOpacity": 1, "labelOffset": 9, "labelFontSize": 13.5, "labelLimit": 300, "rowPadding": 4.8}},
         "stroke": {"field": "g", "type": "nominal", "scale": {"domain": ["PBS", "αTRP-1", "αTRP-1 + IL-2/mAb", "αTRP-1 + IL-2ᵂᵀFc", "αTRP-1 + IL-2³ˣFc"], "range": ["#1a1a1a", "#9142a3", "#ee8b2d", "#3d5aa9", "#5db446"]}, "legend": {"title": null, "orient": "none", "legendX": 165, "legendY": -1, "symbolSize": 100, "symbolStrokeWidth": 1.2, "symbolOpacity": 1, "labelOffset": 9, "labelFontSize": 13.5, "labelLimit": 300, "rowPadding": 4.8}},
         "shape": {"field": "g", "type": "nominal", "scale": {"domain": ["PBS", "αTRP-1", "αTRP-1 + IL-2/mAb", "αTRP-1 + IL-2ᵂᵀFc", "αTRP-1 + IL-2³ˣFc"], "range": ["M-1.8,0H-0.75M0.75,0H1.8M-0.75,0A0.75,0.75,0,1,1,0.75,0A0.75,0.75,0,1,1,-0.75,0Z", "M-1.8,0H1.8M-0.8,-0.55H0.8L0,0.8Z", "M-1.8,0H1.8M-0.75,0A0.75,0.75,0,1,1,0.75,0A0.75,0.75,0,1,1,-0.75,0Z", "M-1.8,0H1.8M-0.65,-0.65H0.65V0.65H-0.65Z", "M-1.8,0H1.8M-0.8,0.55H0.8L0,-0.8Z"]}, "legend": {"title": null, "orient": "none", "legendX": 165, "legendY": -1, "symbolSize": 100, "symbolStrokeWidth": 1.2, "symbolOpacity": 1, "labelOffset": 9, "labelFontSize": 13.5, "labelLimit": 300, "rowPadding": 4.8}}
        }}
      ],
      "resolve": {"scale": {"fill": "independent", "stroke": "independent", "shape": "independent"}, "legend": {"fill": "independent", "stroke": "independent", "shape": "independent"}}
     }
    ],
    "spacing": 51,
    "bounds": "flush",
    "resolve": {"scale": {"color": "independent", "fill": "independent", "stroke": "independent", "shape": "independent"}, "legend": {"color": "independent", "fill": "independent", "stroke": "independent", "shape": "independent"}}
   }
  ],
  "spacing": 160,
  "bounds": "flush",
  "resolve": {"scale": {"color": "independent", "fill": "independent", "stroke": "independent", "shape": "independent"}, "legend": {"color": "independent", "fill": "independent", "stroke": "independent", "shape": "independent"}}
 },
 {
  "hconcat": [
   {
    "width": 130, "height": 191,
    "layer": [
     {"data": {"name": "bT"}, "transform": [{"filter": "datum.hi != null"}], "mark": {"type": "rule", "strokeWidth": 1.1},
      "encoding": {
       "x": {"field": "day", "type": "quantitative", "scale": {"domain": [0, 32], "nice": false, "zero": false}, "axis": {"values": [0, 8, 16, 24, 32], "tickCount": 30, "title": "Days post tumour injection", "titlePadding": 14, "labelOverlap": false, "labelFlush": false}},
       "y": {"field": "m", "type": "quantitative", "scale": {"domain": [0, 100], "nice": false}, "axis": {"values": [0, 25, 50, 75, 100], "tickCount": 30, "title": "Tumour area  (mm²)", "titlePadding": 13, "labelOverlap": false}},
       "y2": {"field": "hi"},
       "color": {"field": "g", "type": "nominal", "scale": {"domain": ["PBS", "IL-2/mAb", "IL-2ᵂᵀFc", "IL-2ᵂᵀFcⁿⁱˡ", "IL-2³ˣFc"], "range": ["#1a1a1a", "#ee8b2d", "#3d5aa9", "#a5532b", "#5db446"]}, "legend": null}
      }},
     {"data": {"name": "bT"}, "transform": [{"filter": "datum.hi != null"}], "mark": {"type": "tick", "orient": "horizontal", "size": 7, "thickness": 1.1},
      "encoding": {
       "x": {"field": "day", "type": "quantitative"},
       "y": {"field": "hi", "type": "quantitative"},
       "color": {"field": "g", "type": "nominal", "legend": null}
      }},
     {"data": {"name": "bT"}, "mark": {"type": "line", "strokeWidth": 1.2},
      "encoding": {
       "x": {"field": "day", "type": "quantitative"},
       "y": {"field": "m", "type": "quantitative"},
       "color": {"field": "g", "type": "nominal", "legend": null}
      }},
     {"data": {"name": "bT"}, "mark": {"type": "point", "filled": true, "size": 58, "strokeWidth": 1.2, "opacity": 1},
      "encoding": {
       "x": {"field": "day", "type": "quantitative"},
       "y": {"field": "m", "type": "quantitative"},
       "fill": {"field": "g", "type": "nominal", "scale": {"domain": ["PBS", "IL-2/mAb", "IL-2ᵂᵀFc", "IL-2ᵂᵀFcⁿⁱˡ", "IL-2³ˣFc"], "range": ["#ffffff", "#ee8b2d", "#3d5aa9", "#a5532b", "#5db446"]}, "legend": null},
       "stroke": {"field": "g", "type": "nominal", "scale": {"domain": ["PBS", "IL-2/mAb", "IL-2ᵂᵀFc", "IL-2ᵂᵀFcⁿⁱˡ", "IL-2³ˣFc"], "range": ["#1a1a1a", "#ee8b2d", "#3d5aa9", "#a5532b", "#5db446"]}, "legend": null},
       "shape": {"field": "g", "type": "nominal", "scale": {"domain": ["PBS", "IL-2/mAb", "IL-2ᵂᵀFc", "IL-2ᵂᵀFcⁿⁱˡ", "IL-2³ˣFc"], "range": ["circle", "circle", "square", "triangle-down", "triangle-up"]}, "legend": null}
      }},
     {"data": {"values": [{"g": "PBS"}]}, "transform": [{"filter": "false"}], "mark": {"type": "point", "filled": true, "opacity": 1},
      "encoding": {
       "fill": {"field": "g", "type": "nominal", "scale": {"domain": ["PBS", "IL-2/mAb", "IL-2ᵂᵀFc", "IL-2ᵂᵀFcⁿⁱˡ", "IL-2³ˣFc"], "range": ["#ffffff", "#ee8b2d", "#3d5aa9", "#a5532b", "#5db446"]}, "legend": {"title": null, "orient": "none", "legendX": 161, "legendY": -10, "symbolSize": 100, "symbolStrokeWidth": 1.2, "symbolOpacity": 1, "labelOffset": 7, "labelFontSize": 13.5, "labelLimit": 300, "rowPadding": 8}},
       "stroke": {"field": "g", "type": "nominal", "scale": {"domain": ["PBS", "IL-2/mAb", "IL-2ᵂᵀFc", "IL-2ᵂᵀFcⁿⁱˡ", "IL-2³ˣFc"], "range": ["#1a1a1a", "#ee8b2d", "#3d5aa9", "#a5532b", "#5db446"]}, "legend": {"title": null, "orient": "none", "legendX": 161, "legendY": -10, "symbolSize": 100, "symbolStrokeWidth": 1.2, "symbolOpacity": 1, "labelOffset": 7, "labelFontSize": 13.5, "labelLimit": 300, "rowPadding": 8}},
       "shape": {"field": "g", "type": "nominal", "scale": {"domain": ["PBS", "IL-2/mAb", "IL-2ᵂᵀFc", "IL-2ᵂᵀFcⁿⁱˡ", "IL-2³ˣFc"], "range": ["M-1.8,0H-0.75M0.75,0H1.8M-0.75,0A0.75,0.75,0,1,1,0.75,0A0.75,0.75,0,1,1,-0.75,0Z", "M-1.8,0H1.8M-0.75,0A0.75,0.75,0,1,1,0.75,0A0.75,0.75,0,1,1,-0.75,0Z", "M-1.8,0H1.8M-0.65,-0.65H0.65V0.65H-0.65Z", "M-1.8,0H1.8M-0.8,-0.55H0.8L0,0.8Z", "M-1.8,0H1.8M-0.8,0.55H0.8L0,-0.8Z"]}, "legend": {"title": null, "orient": "none", "legendX": 161, "legendY": -10, "symbolSize": 100, "symbolStrokeWidth": 1.2, "symbolOpacity": 1, "labelOffset": 7, "labelFontSize": 13.5, "labelLimit": 300, "rowPadding": 8}}
      }},
     {"data": {"values": [{}]}, "mark": {"type": "rule", "color": "#6f6f6f", "strokeWidth": 1.1}, "encoding": {"x": {"datum": 30.0}, "y": {"datum": 71}, "y2": {"datum": 93}}},
     {"data": {"values": [{}]}, "mark": {"type": "rule", "color": "#8f8f8f", "strokeWidth": 1.1}, "encoding": {"x": {"datum": 35.7}, "y": {"datum": 13.8}, "y2": {"datum": 91.4}}},
     {"data": {"values": [{}]}, "mark": {"type": "rule", "color": "#8f8f8f", "strokeWidth": 1.1}, "encoding": {"x": {"datum": 32.5}, "x2": {"datum": 35.7}, "y": {"datum": 91.4}}},
     {"data": {"values": [{}]}, "mark": {"type": "rule", "color": "#8f8f8f", "strokeWidth": 1.1}, "encoding": {"x": {"datum": 32.5}, "x2": {"datum": 35.7}, "y": {"datum": 13.8}}},
     {"data": {"values": [{}]}, "mark": {"type": "text", "text": "NS", "align": "center", "baseline": "middle", "fontSize": 16}, "encoding": {"x": {"datum": 32.6}, "y": {"datum": 81.2}}},
     {"data": {"values": [{}]}, "mark": {"type": "text", "text": "****", "align": "left", "baseline": "middle", "fontSize": 14}, "encoding": {"x": {"datum": 36.9}, "y": {"datum": 30.5}}},
     {"data": {"values": [{}]}, "mark": {"type": "text", "text": "b", "align": "left", "baseline": "alphabetic", "fontSize": 17, "fontWeight": "bold"}, "encoding": {"x": {"datum": -16.49}, "y": {"datum": 104.7}}},
     {"data": {"values": [{}]}, "mark": {"type": "text", "text": "CT26", "align": "left", "baseline": "alphabetic", "fontSize": 14.5}, "encoding": {"x": {"datum": 2.46}, "y": {"datum": 104.2}}}
    ],
    "resolve": {"scale": {"fill": "independent", "stroke": "independent", "shape": "independent"}, "legend": {"fill": "independent", "stroke": "independent", "shape": "independent"}}
   },
   {
    "hconcat": [
     {
      "width": 111, "height": 192,
      "layer": [
       {"data": {"name": "mice"}, "transform": [{"filter": "datum.g == 'PBS'"}], "mark": {"type": "line", "color": "#111111", "strokeWidth": 1.5},
        "encoding": {
         "x": {"field": "day", "type": "quantitative", "scale": {"domain": [0, 32], "nice": false, "zero": false}, "axis": {"values": [0, 8, 16, 24, 32], "tickCount": 30, "title": "Days post tumour injection", "titleX": 140, "titlePadding": 16, "labelOverlap": false, "labelFlush": false}},
         "y": {"field": "a", "type": "quantitative", "scale": {"domain": [0, 175], "range": [192, 27], "nice": false}, "axis": {"values": [25, 75, 125, 175], "tickCount": 30, "title": "Tumour area  (mm²)", "titlePadding": 16, "labelOverlap": false}},
         "detail": {"field": "id", "type": "nominal"}
        }},
       {"data": {"values": [{}]}, "mark": {"type": "text", "text": "PBS", "align": "left", "baseline": "middle", "fontSize": 14}, "encoding": {"x": {"datum": 4.3}, "y": {"datum": 162}}}
      ]
     },
     {
      "width": 110, "height": 192,
      "layer": [
       {"data": {"name": "mice"}, "transform": [{"filter": "datum.g == 'WT'"}], "mark": {"type": "line", "color": "#111111", "strokeWidth": 1.5},
        "encoding": {
         "x": {"field": "day", "type": "quantitative", "scale": {"domain": [0, 32], "nice": false, "zero": false}, "axis": {"values": [0, 8, 16, 24, 32], "tickCount": 30, "title": null, "labelOverlap": false, "labelFlush": false}},
         "y": {"field": "a", "type": "quantitative", "scale": {"domain": [0, 175], "range": [192, 27], "nice": false}, "axis": {"values": [25, 75, 125, 175], "tickCount": 30, "title": null, "labelOverlap": false}},
         "detail": {"field": "id", "type": "nominal"}
        }},
       {"data": {"values": [{}]}, "mark": {"type": "text", "text": "IL-2ᵂᵀFc", "align": "left", "baseline": "middle", "fontSize": 14, "color": "#4b5ca6"}, "encoding": {"x": {"datum": 4.07}, "y": {"datum": 159}}},
       {"data": {"values": [{}]}, "mark": {"type": "text", "text": ["Rejected", "tumours (2/5)"], "align": "center", "baseline": "middle", "fontSize": 13, "lineHeight": 15}, "encoding": {"x": {"datum": 30.8}, "y": {"datum": 112.4}}},
       {"data": {"values": [{}]}, "mark": {"type": "rule", "color": "#333333", "strokeWidth": 1, "strokeDash": [2, 2]}, "encoding": {"x": {"datum": 30.8}, "y": {"datum": 86}, "y2": {"datum": 61.5}}},
       {"data": {"values": [{}]}, "mark": {"type": "rule", "color": "#333333", "strokeWidth": 1, "strokeDash": [2, 2]}, "encoding": {"x": {"datum": 30.8}, "y": {"datum": 61.5}, "x2": {"datum": 22.3}, "y2": {"datum": 4.5}}},
       {"data": {"values": [{}]}, "mark": {"type": "point", "shape": "triangle-up", "filled": true, "color": "#222222", "size": 28, "angle": 208.6, "opacity": 1}, "encoding": {"x": {"datum": 22.55}, "y": {"datum": 5.9}}}
      ]
     }
    ],
    "spacing": 55,
    "bounds": "flush",
    "resolve": {"scale": {"color": "independent", "fill": "independent", "stroke": "independent", "shape": "independent"}, "legend": {"color": "independent", "fill": "independent", "stroke": "independent", "shape": "independent"}}
   }
  ],
  "spacing": 237,
  "bounds": "flush",
  "resolve": {"scale": {"color": "independent", "fill": "independent", "stroke": "independent", "shape": "independent"}, "legend": {"color": "independent", "fill": "independent", "stroke": "independent", "shape": "independent"}}
 }
]
}
